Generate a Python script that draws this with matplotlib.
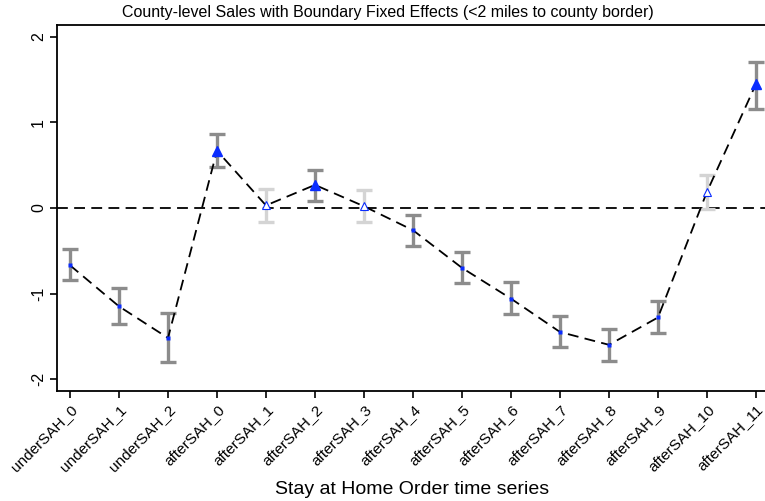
import numpy as np
import matplotlib
matplotlib.use('Agg')
import matplotlib.pyplot as plt

plt.rcParams['font.family'] = ['Liberation Sans', 'DejaVu Sans']

labels = ['underSAH_0', 'underSAH_1', 'underSAH_2', 'afterSAH_0', 'afterSAH_1',
          'afterSAH_2', 'afterSAH_3', 'afterSAH_4', 'afterSAH_5', 'afterSAH_6',
          'afterSAH_7', 'afterSAH_8', 'afterSAH_9', 'afterSAH_10', 'afterSAH_11']
coef = [-0.67, -1.15, -1.52, 0.67, 0.03, 0.27, 0.02, -0.26, -0.70, -1.06,
        -1.45, -1.60, -1.28, 0.19, 1.45]
ci_lo = [-0.84, -1.36, -1.80, 0.48, -0.16, 0.085, -0.16, -0.44, -0.88, -1.24,
         -1.62, -1.79, -1.46, -0.015, 1.155]
ci_hi = [-0.48, -0.94, -1.23, 0.87, 0.22, 0.44, 0.21, -0.08, -0.51, -0.87,
         -1.26, -1.42, -1.09, 0.39, 1.71]

coef = np.array(coef)
lo = np.array(ci_lo)
hi = np.array(ci_hi)
x = np.arange(len(labels))

insig = (lo < 0) & (hi > 0)
pos = (~insig) & (coef > 0)
neg = (~insig) & (coef < 0)

fig = plt.figure(figsize=(7.65, 5.01), dpi=100)
# axes run past the right edge of the figure, like the cropped original
x0 = 57 / 765
x1 = 785 / 765
ax = fig.add_axes([x0, 1 - 391/501, x1 - x0, (391 - 25)/501])

ax.axhline(0, color='black', lw=1.3, ls=(0, (6, 3.5)), zorder=1)

# error bars: dark grey for significant, light grey otherwise
for m, col in [(~insig, '#8c8c8c'), (insig, '#d4d4d4')]:
    ax.errorbar(x[m], coef[m], yerr=[coef[m] - lo[m], hi[m] - coef[m]],
                fmt='none', ecolor=col, elinewidth=2.4, capsize=5.5,
                capthick=2.4, zorder=2)

ax.plot(x, coef, color='black', lw=1.3, ls=(0, (6, 3.5)), zorder=3)

ax.plot(x[pos], coef[pos], ls='none', marker='^', ms=7, color='#0a2cff', zorder=4)
ax.plot(x[neg], coef[neg], ls='none', marker='s', ms=2.5, color='#0a2cff',
        mec='none', zorder=4)
ax.plot(x[insig], coef[insig], ls='none', marker='^', ms=6, mfc='white',
        mec='#0a2cff', mew=0.8, zorder=4)

# 70px for the first tick, 49px between ticks
ax.set_xlim(-0.265, -0.265 + (785 - 57) / 49)
ax.set_ylim(-2.14, 2.14)
ax.set_yticks([-2, -1, 0, 1, 2])
ax.set_yticklabels(['-2', '-1', '0', '1', '2'], rotation=90, va='center', fontsize=11.5)
ax.set_xticks(x)
ax.set_xticklabels(labels, rotation=45, ha='right', rotation_mode='anchor', fontsize=11)
ax.tick_params(length=5, width=1.2, pad=3)
for s in ax.spines.values():
    s.set_linewidth(1.3)

fig.text(388/765, 1 - 13/501, 'County-level Sales with Boundary Fixed Effects (<2 miles to county border)',
         ha='center', va='center', fontsize=11.5)
fig.text(412/765, 1 - 489/501, 'Stay at Home Order time series', ha='center', va='center', fontsize=14)

fig.savefig('out.png', dpi=100)
